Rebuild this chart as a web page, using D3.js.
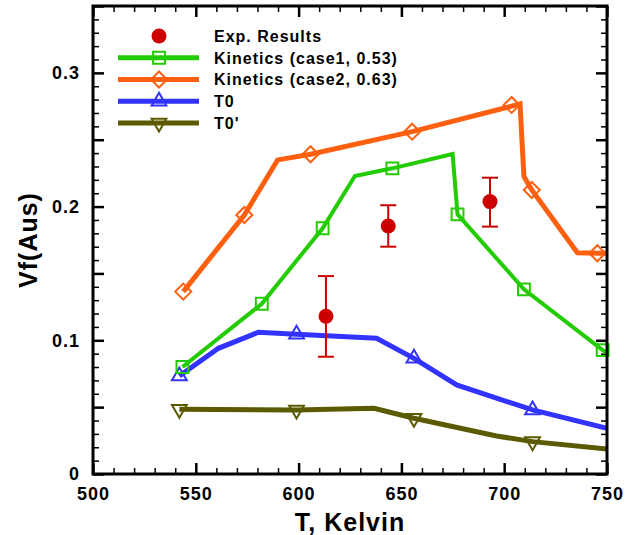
<!DOCTYPE html>
<html>
<head>
<meta charset="utf-8">
<script src="https://cdn.jsdelivr.net/npm/d3@7"></script>
<style>
  html, body { margin: 0; padding: 0; background: #fff; }
  svg { display: block; }
  text { font-family: "Liberation Sans", Arial, Helvetica, sans-serif; font-weight: bold; fill: #000; }
</style>
</head>
<body>
<script>
// ---- Data ----
const expT  = [613.3, 643.6, 693.1];
const expV  = [0.118, 0.1855, 0.2037];
const expLo = [0.0877, 0.170, 0.185];
const expHi = [0.148, 0.201, 0.2216];

const case1T = [543.5, 582.1, 611.7, 627.4, 645.6, 674.9, 677.3, 709.6, 747.9, 750];
const case1V = [0.080, 0.1273, 0.1838, 0.2229, 0.2286, 0.2393, 0.1942, 0.1381, 0.0927, 0.0905];
const case1MarkT = [543.5, 582.1, 611.7, 645.6, 677.3, 709.6, 747.9];
const case1MarkV = [0.080, 0.1273, 0.1838, 0.2286, 0.1942, 0.1381, 0.0927];

const case2T = [543.9, 573.6, 589.8, 605.8, 655.2, 703.6, 707.7, 709.6, 713.4, 735.6, 745.3, 750];
const case2V = [0.1364, 0.1937, 0.2349, 0.2391, 0.2560, 0.2751, 0.2767, 0.2224, 0.2124, 0.1655, 0.1651, 0.165];
const case2MarkT = [543.9, 573.6, 605.8, 655.2, 703.6, 713.4, 745.3];
const case2MarkV = [0.1364, 0.1937, 0.2391, 0.2560, 0.2760, 0.2124, 0.1651];

const t0T = [542, 561, 580.4, 599, 637.9, 656.1, 676.9, 713.8, 750];
const t0V = [0.0733, 0.094, 0.106, 0.1045, 0.1015, 0.0865, 0.0666, 0.0479, 0.0342];
const t0MarkT = [542, 599, 656.1, 713.8];
const t0MarkV = [0.0733, 0.1045, 0.0865, 0.0479];

const t0pT = [542, 599, 636.7, 656.1, 696.3, 713.8, 750];
const t0pV = [0.0484, 0.0479, 0.0491, 0.0417, 0.0284, 0.0242, 0.0186];
const t0pMarkT = [542, 599, 656.1, 713.8];
const t0pMarkV = [0.0484, 0.0479, 0.0417, 0.0242];

const legendLabels = ["Exp. Results", "Kinetics (case1, 0.53)", "Kinetics (case2, 0.63)", "T0", "T0'"];
const xTickLabels = ["500", "550", "600", "650", "700", "750"];
const yTickValues = [0, 0.1, 0.2, 0.3];
const yTickLabels = ["0", "0.1", "0.2", "0.3"];
const xTitle = "T, Kelvin";
const yTitle = "Vf(Aus)";

// ---- Layout ----
const W = 628, H = 535;
const L = 93, R = 607, T = 6, B = 474;
const x = d3.scaleLinear().domain([500, 750]).range([L, R]);
const y = d3.scaleLinear().domain([0, 0.35]).range([B, T]);

const COL = { exp: "#cc0000", c1: "#22cc00", c2: "#ff6010", t0: "#3333ff", t0p: "#5c5a00" };

const svg = d3.select("body").append("svg").attr("width", W).attr("height", H);

svg.append("defs").append("clipPath").attr("id", "clip")
  .append("rect").attr("x", L).attr("y", T).attr("width", R - L).attr("height", B - T);

// ---- Axes with ticks inward ----
const xMajor = d3.range(500, 751, 50);
const xMinor = d3.range(500, 751, 10).filter(v => v % 50 !== 0);
const yMajor = d3.range(0, 0.351, 0.05).map(v => +v.toFixed(2));
const yMinor = d3.range(0, 0.351, 0.01).map(v => +v.toFixed(2)).filter(v => Math.round(v * 100) % 5 !== 0);

function styleAxis(w) {
  return g => {
    g.select(".domain").remove();
    g.selectAll(".tick line").attr("stroke", "#000").attr("stroke-width", w);
  };
}
function fmtY(v) {
  const i = yTickValues.findIndex(t => Math.abs(t - v) < 1e-9);
  return i >= 0 ? yTickLabels[i] : "";
}

const axFont = 18;
// bottom
svg.append("g").attr("transform", `translate(0,${B})`)
  .call(d3.axisBottom(x).tickValues(xMajor).tickSize(-11).tickPadding(13).tickFormat((d, i) => xTickLabels[i]))
  .call(styleAxis(2.5))
  .call(g => g.selectAll("text").attr("font-size", axFont).attr("font-family", null).attr("letter-spacing", 1).attr("fill", "#000"));
svg.append("g").attr("transform", `translate(0,${B})`)
  .call(d3.axisBottom(x).tickValues(xMinor).tickSize(-6).tickFormat(""))
  .call(styleAxis(1.5));
// top
svg.append("g").attr("transform", `translate(0,${T})`)
  .call(d3.axisTop(x).tickValues(xMajor).tickSize(-11).tickFormat(""))
  .call(styleAxis(2.5));
svg.append("g").attr("transform", `translate(0,${T})`)
  .call(d3.axisTop(x).tickValues(xMinor).tickSize(-6).tickFormat(""))
  .call(styleAxis(1.5));
// left
svg.append("g").attr("transform", `translate(${L},0)`)
  .call(d3.axisLeft(y).tickValues(yMajor).tickSize(-11).tickPadding(13).tickFormat(fmtY))
  .call(styleAxis(2.5))
  .call(g => g.selectAll("text").attr("font-size", axFont).attr("font-family", null).attr("letter-spacing", 1).attr("fill", "#000"));
svg.append("g").attr("transform", `translate(${L},0)`)
  .call(d3.axisLeft(y).tickValues(yMinor).tickSize(-6).tickFormat(""))
  .call(styleAxis(1.5));
// right
svg.append("g").attr("transform", `translate(${R},0)`)
  .call(d3.axisRight(y).tickValues(yMajor).tickSize(-11).tickFormat(""))
  .call(styleAxis(2.5));
svg.append("g").attr("transform", `translate(${R},0)`)
  .call(d3.axisRight(y).tickValues(yMinor).tickSize(-6).tickFormat(""))
  .call(styleAxis(1.5));

// ---- Series ----
const plot = svg.append("g").attr("clip-path", "url(#clip)");
const line = d3.line().x(d => x(d[0])).y(d => y(d[1]));
const zip = (a, b) => a.map((v, i) => [v, b[i]]);

function drawLine(ts, vs, color, w) {
  plot.append("path").datum(zip(ts, vs))
    .attr("d", line).attr("fill", "none").attr("stroke", color)
    .attr("stroke-width", w).attr("stroke-linejoin", "miter");
}
const markerPath = {
  square: d3.symbol().type(d3.symbolSquare).size(140),
  diamond: () => "M0,-8L8,0L0,8L-8,0Z",
  tri: d3.symbol().type(d3.symbolTriangle).size(95),
};
function drawMarkers(g, ts, vs, kind, color, rot) {
  g.selectAll(null).data(zip(ts, vs)).join("path")
    .attr("transform", d => `translate(${x(d[0])},${y(d[1])})${rot ? " rotate(180)" : ""}`)
    .attr("d", markerPath[kind]())
    .attr("fill", "none").attr("stroke", color).attr("stroke-width", 2);
}

drawLine(t0pT, t0pV, COL.t0p, 5);
drawLine(t0T, t0V, COL.t0, 5);
drawLine(case1T, case1V, COL.c1, 4);
drawLine(case2T, case2V, COL.c2, 5);
drawMarkers(svg.append("g"), t0pMarkT, t0pMarkV, "tri", COL.t0p, true);
drawMarkers(svg.append("g"), t0MarkT, t0MarkV, "tri", COL.t0, false);
drawMarkers(svg.append("g"), case1MarkT, case1MarkV, "square", COL.c1, false);
drawMarkers(svg.append("g"), case2MarkT, case2MarkV, "diamond", COL.c2, false);

// experimental results with error bars
const eg = svg.append("g");
expT.forEach((t, i) => {
  const cx = x(t);
  eg.append("line").attr("x1", cx).attr("x2", cx).attr("y1", y(expLo[i])).attr("y2", y(expHi[i]))
    .attr("stroke", COL.exp).attr("stroke-width", 2);
  [expLo[i], expHi[i]].forEach(v => {
    eg.append("line").attr("x1", cx - 8).attr("x2", cx + 8).attr("y1", y(v)).attr("y2", y(v))
      .attr("stroke", COL.exp).attr("stroke-width", 2);
  });
  eg.append("circle").attr("cx", cx).attr("cy", y(expV[i])).attr("r", 7.5).attr("fill", COL.exp);
});

// ---- Frame ----
svg.append("rect").attr("x", L).attr("y", T).attr("width", R - L).attr("height", B - T)
  .attr("fill", "none").attr("stroke", "#000").attr("stroke-width", 3);

// ---- Legend ----
const lg = svg.append("g");
const legX1 = 118, legX2 = 199, legMX = 159, legTX = 214, legY0 = 36, legDY = 21.75;
const legStyles = [
  { color: COL.exp, kind: "dot" },
  { color: COL.c1, kind: "square", w: 5 },
  { color: COL.c2, kind: "diamond", w: 5 },
  { color: COL.t0, kind: "tri", w: 5 },
  { color: COL.t0p, kind: "tri", w: 5, rot: true },
];
legendLabels.forEach((lab, i) => {
  const yy = legY0 + i * legDY;
  const s = legStyles[i];
  if (s.kind === "dot") {
    lg.append("circle").attr("cx", legMX).attr("cy", yy).attr("r", 7.5).attr("fill", s.color);
  } else {
    lg.append("line").attr("x1", legX1).attr("x2", legX2).attr("y1", yy).attr("y2", yy)
      .attr("stroke", s.color).attr("stroke-width", s.w);
    lg.append("path").attr("transform", `translate(${legMX},${yy})${s.rot ? " rotate(180)" : ""}`)
      .attr("d", markerPath[s.kind]()).attr("fill", "none").attr("stroke", s.color).attr("stroke-width", 2);
  }
  lg.append("text").attr("x", legTX).attr("y", yy).attr("dy", "0.36em")
    .attr("font-size", 16).attr("letter-spacing", 1).text(lab);
});

// ---- Titles ----
svg.append("text").attr("x", (L + R) / 2).attr("y", 522).attr("dy", "0.36em")
  .attr("text-anchor", "middle").attr("font-size", 25).attr("letter-spacing", 1).text(xTitle);
svg.append("text").attr("transform", `translate(28,${(T + B) / 2}) rotate(-90)`).attr("dy", "0.36em")
  .attr("text-anchor", "middle").attr("font-size", 25).attr("letter-spacing", 1).text(yTitle);
</script>
</body>
</html>
